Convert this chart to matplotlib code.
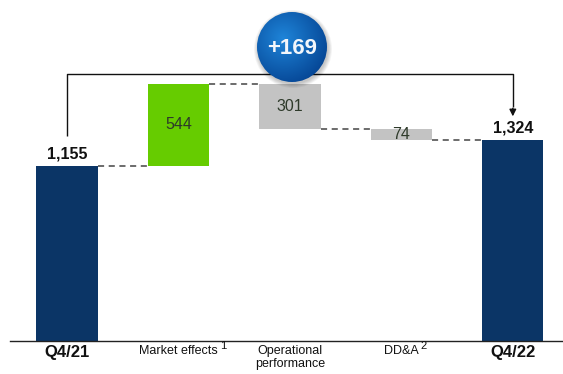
import matplotlib.pyplot as plt
import numpy as np
from matplotlib.patches import Circle

plt.rcParams['font.family'] = ['Liberation Sans', 'DejaVu Sans']

# EBIT bridge, EUR m
categories = ['Q4/21', 'Market effects', 'Operational\nperformance', 'DD&A', 'Q4/22']
footnotes = ['', '1', '', '2', '']
start_value = 1155
changes = [544, -301, -74]
end_value = 1324

navy = '#0b3566'
green = '#66cc00'
grey = '#c3c3c3'

fig = plt.figure(figsize=(5.63, 3.74), dpi=100)
ax = fig.add_axes([10 / 563, 33 / 374, 553 / 563, 341 / 374])
ax.set_xlim(-0.51, 4.45)
ax.set_ylim(0, 2250)

width = 0.55
x = np.arange(len(categories))

# running totals for the floating bars
levels = [start_value]
for c in changes:
    levels.append(levels[-1] + c)

ax.bar(x[0], start_value, width, color=navy, zorder=2)
ax.bar(x[-1], end_value, width, color=navy, zorder=2)
for i, c in enumerate(changes):
    bottom = min(levels[i], levels[i + 1])
    col = green if c > 0 else grey
    ax.bar(x[i + 1], abs(c), width, bottom=bottom, color=col, zorder=2)
    ax.text(x[i + 1], bottom + abs(c) / 2, f'{abs(c)}', ha='center', va='center',
            fontsize=11.5, color='#2e3a2a', zorder=3)

# dashed connectors between bars
for i in range(len(levels)):
    ax.plot([x[i] + width / 2, x[i + 1] - width / 2], [levels[i], levels[i]],
            ls=(0, (4, 3)), color='#444444', lw=1.1, zorder=1)

# totals above end bars
ax.text(x[0], start_value + 30, f'{start_value:,}', ha='center', va='bottom',
        fontsize=11.5, fontweight='bold', color='#111111')
ax.text(x[-1], end_value + 30, f'{end_value:,}', ha='center', va='bottom',
        fontsize=11.5, fontweight='bold', color='#111111')

# bracket from start to end with arrow
top = max(levels) + 60
ax.plot([x[0], x[0], x[-1], x[-1]], [start_value + 200, top, top, end_value + 220],
        color='#111111', lw=1.0, zorder=1, solid_capstyle='butt')
ax.annotate('', xy=(x[-1], end_value + 140), xytext=(x[-1], end_value + 230),
            arrowprops=dict(arrowstyle='-|>', color='#111111', lw=1.0,
                            mutation_scale=10))

# category labels, footnote marks placed off each label's box
for i, (lab, fn) in enumerate(zip(categories, footnotes)):
    bold = i in (0, len(categories) - 1)
    t = ax.text(x[i], -28, lab, ha='center', va='top', fontsize=12 if bold else 9,
                fontweight='bold' if bold else 'normal', color='#111111',
                linespacing=1.05, clip_on=False)
    if fn:
        ax.annotate(fn, xy=(1, 1), xycoords=t, xytext=(1.5, 3),
                    textcoords='offset points', ha='left', va='top',
                    fontsize=8, color='#111111', annotation_clip=False)

for s in ['top', 'right', 'left']:
    ax.spines[s].set_visible(False)
ax.spines['bottom'].set_color('#222222')
ax.spines['bottom'].set_linewidth(1.0)
ax.set_xticks([])
ax.set_yticks([])

# delta bubble, drawn in pixel space on an overlay
ov = fig.add_axes([0, 0, 1, 1], zorder=5)
ov.set_xlim(0, 563)
ov.set_ylim(374, 0)
ov.axis('off')
cx, cy, r = 292, 47, 35
for k in range(6):
    ov.add_patch(Circle((cx + 1, cy + 2), r + 4 - k * 0.8, color='#000000',
                        alpha=0.04, lw=0))
yy, xx = np.mgrid[-1:1:200j, -1:1:200j]
d = np.sqrt((xx + 0.25) ** 2 + (yy + 0.25) ** 2)
img = np.clip(d / 1.4, 0, 1)
c0 = np.array([0.12, 0.52, 0.85])
c1 = np.array([0.02, 0.27, 0.58])
rgb = c0[None, None, :] * (1 - img[..., None]) + c1[None, None, :] * img[..., None]
im = ov.imshow(rgb, extent=[cx - r, cx + r, cy + r, cy - r], zorder=2)
clip = Circle((cx, cy), r, transform=ov.transData)
im.set_clip_path(clip)
delta = end_value - start_value
ov.text(cx, cy + 1, f'{delta:+d}', ha='center', va='center', fontsize=16,
        fontweight='bold', color='#f2f6fb', zorder=3)
ov.set_xlim(0, 563)
ov.set_ylim(374, 0)

fig.savefig('out.png', dpi=100)
